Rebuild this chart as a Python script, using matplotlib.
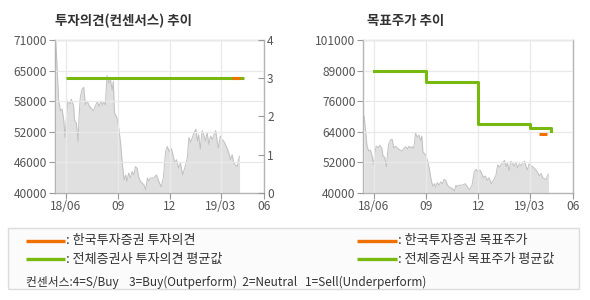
import matplotlib
matplotlib.use("Agg")
import matplotlib.pyplot as plt
from matplotlib.lines import Line2D
from matplotlib.patches import Rectangle
import numpy as np

plt.rcParams['font.family'] = ['Noto Sans CJK KR', 'DejaVu Sans']

# ---------------- data ----------------
# days since 2018-06-01
price_days = [-17, -16, -14, -12, -9, -6, -3, -1, 2, 4, 8, 10, 14, 16, 19, 22, 24, 26, 29, 32,
              35, 38, 41, 44, 49, 53, 56, 59, 62, 65, 67, 70, 73, 76, 79, 82, 84, 86, 91, 94,
              97, 100, 103, 106, 108, 111, 114, 117, 120, 123, 126, 129, 132, 138, 141, 144, 146, 149,
              155, 160, 164, 168, 172, 176, 179, 182, 186, 189, 192, 195, 199, 202, 206, 211, 214,
              217, 220, 223, 226, 229, 232, 234, 237, 240, 243, 246, 249, 252, 255, 258, 261, 264,
              267, 269, 272, 275, 278, 281, 284, 287, 290, 293, 296, 299, 302, 304, 306]
price_vals = [70500, 68200, 63400, 58600, 56600, 57000, 54600, 51200, 56000, 58600, 58000, 59000,
              57800, 54600, 54200, 50400, 55900, 59400, 61000, 61400, 57800, 58600, 57800, 57300,
              56600, 57800, 58400, 57500, 58600, 57800, 58400, 57800, 63800, 62200, 63000, 60800,
              62600, 56300, 55000, 52800, 49800, 45700, 42600, 43600, 42300, 44000, 43000, 44300,
              43600, 45300, 44900, 43000, 42300, 41600, 40600, 43000, 42300, 43000,
              43000, 43600, 42300, 41200, 43000, 48400, 49400, 48400, 49000, 47700, 46000, 46700,
              45000, 46000, 43600, 45600, 47000, 51200, 50200, 51200, 52200, 52900, 50500, 51800,
              48900, 52600, 51800, 50500, 52200, 49800, 51500, 50800, 51800, 52600, 50200, 49100,
              51500, 50800, 50500, 49800, 49100, 48100, 46700, 47700, 46000, 45600, 45300, 46700, 47400]

# consensus (0-4 scale)
cons_avg_days = [0, 313]
cons_avg = [3, 3]
cons_kis_days = [293, 306]
cons_kis = [3, 3]

# target price
tp_avg_days = [0, 92, 183, 273, 311]
tp_avg = [88800, 84100, 67400, 65850, 64500]
tp_kis_days = [290, 304]
tp_kis = [63600, 63600]

x_tick_days = [0, 92, 183, 273, 349.5]
x_tick_labels = ['18/06', '09', '12', '19/03', '06']
left_ytick_labels = ['40000', '46000', '52000', '58000', '65000', '71000']
right_ytick_labels = ['40000', '52000', '64000', '76000', '89000', '101000']
cons_ticks = [0, 1, 2, 3, 4]

title_left = '투자의견(컨센서스) 추이'
title_right = '목표주가 추이'
legend_left = [': 한국투자증권 투자의견', ': 전체증권사 투자의견 평균값']
legend_right = [': 한국투자증권 목표주가', ': 전체증권사 목표주가 평균값']
legend_note = '컨센서스:4=S/Buy    3=Buy(Outperform)  2=Neutral   1=Sell(Underperform)'

# ---------------- style ----------------
GREEN = '#77b90e'
ORANGE = '#f07000'
FILL = '#e0e0e0'
EDGE = '#c0c0c0'
GRID = '#e9e9e9'
SPINE = '#b4b4b4'
TXT = '#555555'
W, H = 590, 300

fig = plt.figure(figsize=(W / 100, H / 100), dpi=100)
fig.patch.set_facecolor('white')


def style_axes(ax):
    for s in ax.spines.values():
        s.set_color(SPINE)
        s.set_linewidth(1.0)
    ax.spines['top'].set_color('#c8c8c8')
    ax.tick_params(axis='both', colors='#999999', labelcolor=TXT, labelsize=8.6,
                   length=4, width=0.8, pad=1.5)
    ax.grid(True, color=GRID, lw=0.9)
    ax.set_axisbelow(False)
    ax.set_xlim(-18.5, 349.5)
    ax.set_xticks(x_tick_days)
    ax.set_xticklabels(x_tick_labels)


# left chart
ax1 = fig.add_axes([55 / W, 1 - 192.7 / H, 209.3 / W, 152.7 / H])
ax1.fill_between(price_days, price_vals, 40000, color=FILL, lw=0, zorder=1)
ax1.plot(price_days, price_vals, color=EDGE, lw=0.7, zorder=1.2)
style_axes(ax1)
ax1.set_ylim(40000, 71000)
ax1.set_yticks(np.linspace(40000, 71000, 6))
ax1.set_yticklabels(left_ytick_labels)
ax1b = ax1.twinx()
ax1b.set_ylim(0, 4)
ax1b.set_yticks(cons_ticks)
ax1b.tick_params(axis='y', colors='#999999', labelcolor=TXT, labelsize=8.6, length=4,
                 width=0.8, pad=2, direction='in')
for s in ax1b.spines.values():
    s.set_visible(False)
ax1b.plot(cons_avg_days, cons_avg, color=GREEN, lw=2.2, solid_capstyle='butt', zorder=3)
ax1b.plot(cons_kis_days, cons_kis, color=ORANGE, lw=2.2, solid_capstyle='butt', zorder=4)

# right chart
ax2 = fig.add_axes([363.3 / W, 1 - 192.7 / H, 210 / W, 152.7 / H])
ax2.fill_between(price_days, price_vals, 40000, color=FILL, lw=0, zorder=1)
ax2.plot(price_days, price_vals, color=EDGE, lw=0.7, zorder=1.2)
style_axes(ax2)
ax2.set_ylim(40000, 101000)
ax2.set_yticks(np.linspace(40000, 101000, 6))
ax2.set_yticklabels(right_ytick_labels)
ax2.plot(tp_avg_days, tp_avg, color=GREEN, lw=2.2, drawstyle='steps-post', zorder=3)
ax2.plot(tp_kis_days, tp_kis, color=ORANGE, lw=2.2, solid_capstyle='butt', zorder=4)

# titles
fig.text(55 / W, 1 - 20.7 / H, title_left, fontsize=9.7, fontweight='bold', color='#333333',
         va='center', ha='left')
fig.text(366.7 / W, 1 - 20.7 / H, title_right, fontsize=9.7, fontweight='bold', color='#333333',
         va='center', ha='left')

# legend box
fig.patches.append(Rectangle((8.3 / W, 1 - 289.3 / H), 571 / W, 61 / H,
                             transform=fig.transFigure, facecolor='#fbfbfb',
                             edgecolor='#dcdcdc', lw=1.0, zorder=0))
rows_y = [240.7, 259.0]
colors = [ORANGE, GREEN]
for i in range(2):
    y = 1 - rows_y[i] / H
    fig.lines.append(Line2D([26 / W, 65 / W], [y, y], transform=fig.transFigure,
                            color=colors[i], lw=2.4, solid_capstyle='butt'))
    fig.text(66 / W, y, legend_left[i], fontsize=9.4, color='#333333', va='center', ha='left')
    fig.lines.append(Line2D([357.3 / W, 396.7 / W], [y, y], transform=fig.transFigure,
                            color=colors[i], lw=2.4, solid_capstyle='butt'))
    fig.text(398.5 / W, y, legend_right[i], fontsize=9.4, color='#333333', va='center', ha='left')
fig.text(26 / W, 1 - 282.3 / H, legend_note, fontsize=8.5, color='#333333', va='center', ha='left')

fig.savefig('out.png', dpi=100)
